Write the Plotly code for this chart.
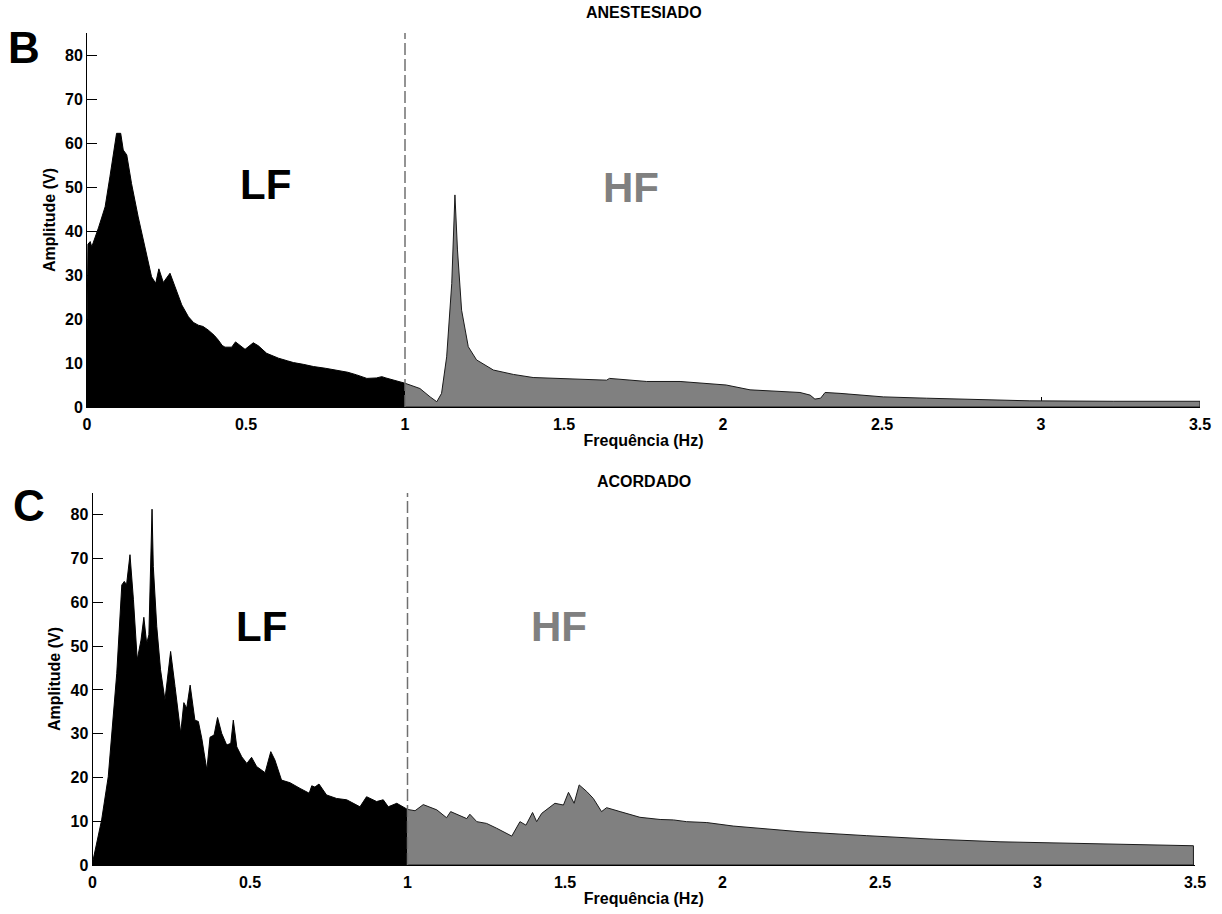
import plotly.graph_objects as go

# ---- ANESTESIADO spectrum (Hz, V) ----
anest_lf_f = [0.0, 0.003, 0.01, 0.015, 0.036, 0.057, 0.072, 0.088, 0.093, 0.106, 0.114, 0.125,
              0.14, 0.161, 0.182, 0.203, 0.216, 0.226, 0.24, 0.261, 0.277, 0.298, 0.319, 0.335,
              0.35, 0.365, 0.381, 0.4, 0.413, 0.425, 0.434, 0.455, 0.467, 0.481, 0.497, 0.523,
              0.539, 0.565, 0.602, 0.63, 0.649, 0.68, 0.712, 0.75, 0.785, 0.82, 0.848, 0.88,
              0.91, 0.927, 0.94, 0.963, 1.0]
anest_lf_amp = [17.0, 37.0, 37.6, 36.4, 40.7, 45.5, 52.3, 60.7, 62.2, 62.2, 58.4, 57.3,
                50.8, 43.2, 36.4, 29.6, 28.1, 31.4, 28.3, 30.4, 27.3, 23.2, 20.5, 19.2,
                18.6, 18.3, 17.5, 16.3, 15.2, 14.0, 13.6, 13.6, 14.8, 14.1, 13.1, 14.6,
                13.9, 12.2, 11.1, 10.5, 10.1, 9.7, 9.2, 8.8, 8.4, 7.9, 7.3, 6.5,
                6.6, 6.9, 6.6, 6.1, 5.4]
anest_hf_f = [1.0, 1.047, 1.079, 1.1, 1.115, 1.131, 1.147, 1.157, 1.165, 1.178, 1.199, 1.225,
              1.278, 1.341, 1.403, 1.498, 1.634, 1.643, 1.76, 1.865, 1.928, 2.01, 2.085,
              2.242, 2.274, 2.289, 2.307, 2.321, 2.368, 2.504, 2.64, 2.777, 2.965, 3.227, 3.5]
anest_hf_amp = [5.4, 4.2, 2.3, 1.2, 3.1, 11.4, 28.1, 48.2, 35.7, 22.0, 13.7, 10.7,
                8.4, 7.4, 6.7, 6.4, 6.1, 6.5, 5.8, 5.8, 5.4, 5.0, 3.9,
                3.3, 2.7, 1.8, 2.0, 3.3, 3.1, 2.3, 2.0, 1.7, 1.4, 1.3, 1.3]

# ---- ACORDADO spectrum (Hz, V) ----
acord_lf_f = [0.0, 0.029, 0.05, 0.066, 0.077, 0.093, 0.101, 0.108, 0.119, 0.13, 0.142, 0.154,
              0.163, 0.172, 0.179, 0.189, 0.193, 0.204, 0.216, 0.23, 0.248, 0.262, 0.28,
              0.29, 0.299, 0.31, 0.325, 0.336, 0.347, 0.363, 0.373, 0.386, 0.397, 0.41,
              0.426, 0.439, 0.447, 0.458, 0.474, 0.49, 0.505, 0.521, 0.548, 0.566, 0.579,
              0.6, 0.627, 0.659, 0.688, 0.696, 0.706, 0.719, 0.743, 0.775, 0.807, 0.849,
              0.87, 0.902, 0.923, 0.939, 0.966, 1.0]
acord_lf_amp = [0.5, 10.3, 20.2, 34.7, 43.8, 64.0, 64.8, 64.0, 70.9, 60.6, 46.9, 51.4,
                56.6, 50.6, 52.6, 81.3, 68.2, 54.5, 44.6, 37.7, 48.8, 40.8, 30.1,
                37.1, 35.8, 41.1, 33.1, 32.8, 28.9, 21.7, 29.2, 29.7, 33.7, 30.1,
                27.4, 27.8, 33.1, 27.0, 24.7, 23.2, 24.6, 22.5, 21.1, 25.9, 24.0,
                19.4, 18.8, 17.5, 16.4, 18.1, 17.8, 18.5, 16.0, 15.2, 14.9, 13.3,
                15.6, 14.5, 14.9, 13.3, 14.1, 12.7]
acord_hf_f = [1.0, 1.024, 1.05, 1.093, 1.124, 1.137, 1.188, 1.198, 1.22, 1.251, 1.283, 1.331,
              1.357, 1.376, 1.397, 1.41, 1.426, 1.468, 1.495, 1.511, 1.529, 1.545, 1.569,
              1.59, 1.616, 1.632, 1.675, 1.738, 1.802, 1.844, 1.886, 1.95, 2.034, 2.246,
              2.458, 2.669, 2.881, 3.093, 3.304, 3.495]
acord_hf_amp = [12.7, 12.4, 13.8, 12.6, 10.8, 12.2, 10.6, 11.6, 9.9, 9.5, 8.4, 6.6,
                9.9, 9.1, 12.0, 9.9, 11.8, 14.1, 13.7, 16.6, 14.1, 18.3, 16.8,
                15.2, 12.2, 13.1, 12.2, 10.9, 10.4, 10.3, 9.9, 9.7, 8.9, 7.6,
                6.7, 5.9, 5.3, 5.0, 4.7, 4.4]

x_ticks = [0, 0.5, 1, 1.5, 2, 2.5, 3, 3.5]
x_tick_text = ["0", "0.5", "1", "1.5", "2", "2.5", "3", "3.5"]
y_ticks = [0, 10, 20, 30, 40, 50, 60, 70, 80]

W, H = 1222, 914

panels = [
    dict(title="ANESTESIADO", letter="B", lf_f=anest_lf_f, lf_amp=anest_lf_amp,
         hf_f=anest_hf_f, hf_amp=anest_hf_amp,
         xdom=[87 / W, 1200 / W], ydom=[1 - 407 / H, 1 - 33 / H],
         title_y=12, letter_xy=(23.5, 47),
         lf_pos=(0.56, 50.5), hf_pos=(1.711, 50.0)),
    dict(title="ACORDADO", letter="C", lf_f=acord_lf_f, lf_amp=acord_lf_amp,
         hf_f=acord_hf_f, hf_amp=acord_hf_amp,
         xdom=[92.5 / W, 1195 / W], ydom=[1 - 865 / H, 1 - 493 / H],
         title_y=481, letter_xy=(28.5, 506),
         lf_pos=(0.535, 54.4), hf_pos=(1.481, 54.4)),
]

FONT = "Liberation Sans, Arial, sans-serif"
GRAY = "#808080"

fig = go.Figure()
annotations = []
shapes = []

for i, p in enumerate(panels):
    n = "" if i == 0 else str(i + 1)
    xa, ya = "x" + n, "y" + n

    # LF band: solid black area
    fig.add_trace(go.Scatter(
        x=p["lf_f"], y=p["lf_amp"], xaxis=xa, yaxis=ya, mode="lines",
        line=dict(color="black", width=1), fill="tozeroy", fillcolor="black",
        hoverinfo="skip", showlegend=False))

    # HF band: gray area closed down to the baseline, outlined in black
    hx = p["hf_f"] + [p["hf_f"][-1], p["hf_f"][0]]
    hy = p["hf_amp"] + [0, 0]
    fig.add_trace(go.Scatter(
        x=hx, y=hy, xaxis=xa, yaxis=ya, mode="lines",
        line=dict(color="#1a1a1a", width=1), fill="toself", fillcolor=GRAY,
        hoverinfo="skip", showlegend=False))

    axis_common = dict(showline=True, linecolor="black", linewidth=1, ticks="inside",
                       ticklen=10, tickwidth=1, tickcolor="black", showgrid=False,
                       zeroline=False, layer="below traces", automargin=False,
                       tickfont=dict(family=FONT, size=16, color="black"))
    fig.layout["xaxis" + n] = dict(
        domain=p["xdom"], range=[0, 3.5], anchor=ya, tickvals=x_ticks,
        ticktext=["<b>%s</b>" % t for t in x_tick_text], ticklabelstandoff=3,
        title=dict(text="<b>Frequência (Hz)</b>", standoff=2,
                   font=dict(family=FONT, size=16, color="black")),
        **axis_common)
    fig.layout["yaxis" + n] = dict(
        domain=p["ydom"], range=[0, 85], anchor=xa, tickvals=y_ticks,
        ticktext=["<b>%d</b>" % v for v in y_ticks],
        title=dict(text="<b>Amplitude (V)</b>", standoff=5,
                   font=dict(family=FONT, size=16, color="black")),
        **axis_common)

    # boundary between the LF and HF bands
    shapes.append(dict(type="line", xref=xa, yref=ya + " domain", x0=1, x1=1, y0=0, y1=1,
                       line=dict(color="#707070", width=1.5, dash="12px,4px"), layer="above"))

    annotations += [
        dict(text="<b>LF</b>", x=p["lf_pos"][0], y=p["lf_pos"][1], xref=xa, yref=ya,
             showarrow=False, font=dict(family=FONT, size=42, color="black")),
        dict(text="<b>HF</b>", x=p["hf_pos"][0], y=p["hf_pos"][1], xref=xa, yref=ya,
             showarrow=False, font=dict(family=FONT, size=42, color=GRAY)),
        dict(text="<b>%s</b>" % p["title"], x=(p["xdom"][0] + p["xdom"][1]) / 2,
             y=1 - p["title_y"] / H, xref="paper", yref="paper", xanchor="center",
             yanchor="middle", showarrow=False,
             font=dict(family=FONT, size=16, color="black")),
        dict(text="<b>%s</b>" % p["letter"], x=p["letter_xy"][0] / W,
             y=1 - p["letter_xy"][1] / H, xref="paper", yref="paper", xanchor="center",
             yanchor="middle", showarrow=False,
             font=dict(family=FONT, size=44, color="black")),
    ]

fig.update_layout(
    width=W, height=H, margin=dict(l=0, r=0, t=0, b=0),
    paper_bgcolor="white", plot_bgcolor="white",
    annotations=annotations, shapes=shapes,
    font=dict(family=FONT, color="black"),
)

fig.write_html("out.html")
